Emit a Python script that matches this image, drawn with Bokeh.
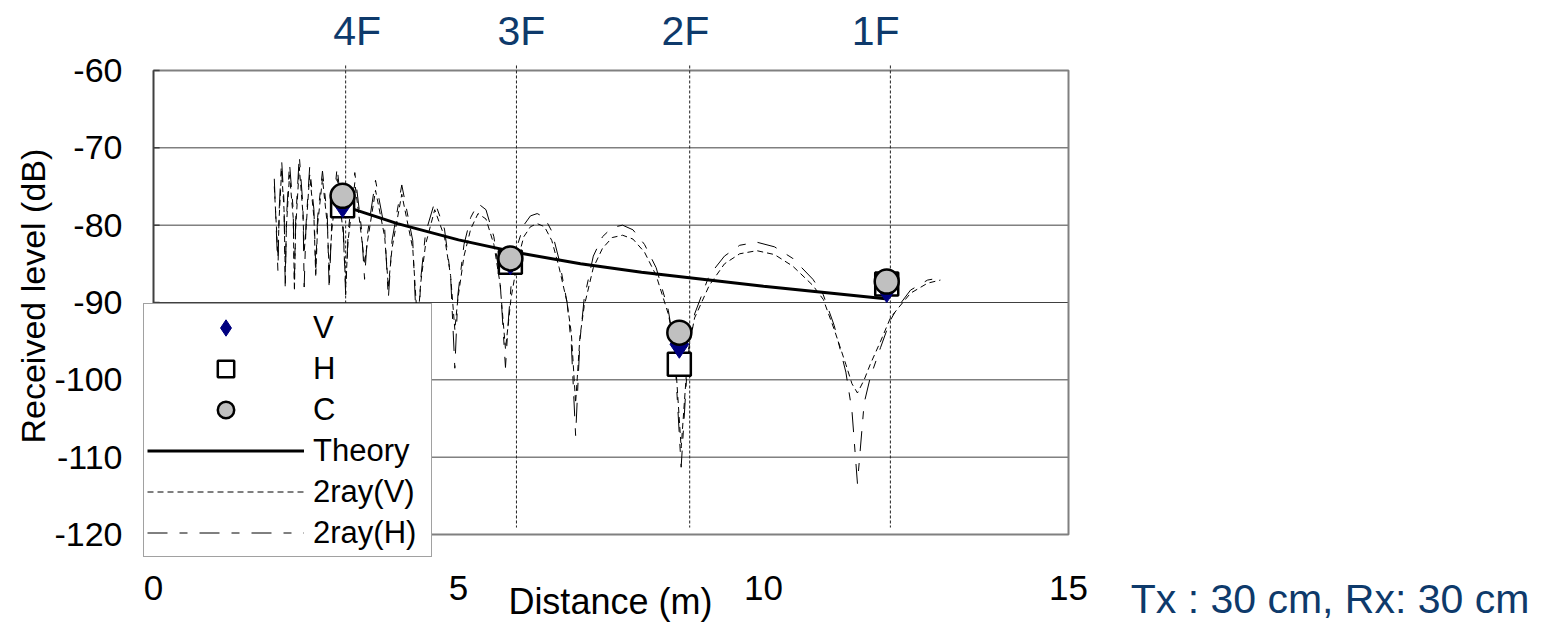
from bokeh.plotting import figure
from bokeh.models import Range1d, Legend, LegendItem, FixedTicker, Title
from bokeh.core.properties import value
from bokeh.embed import file_html
from bokeh.resources import INLINE

# ---------------- data ----------------
floor_x = [3.15, 5.95, 8.79, 12.08]
floor_labels = ["4F", "3F", "2F", "1F"]
floor_label_x = [3.34, 6.03, 8.72, 11.84]

meas_x = [3.10, 5.85, 8.62, 12.02]
meas_V = [-77.2, -84.6, -95.4, -88.2]
meas_H = [-77.5, -84.8, -98.0, -87.6]
meas_C = [-76.2, -84.3, -93.9, -87.3]

theory_x = [3.11, 4.0, 5.0, 6.0, 7.0, 8.0, 9.0, 10.0, 11.0, 12.0]
theory_y = [-77.5, -79.8, -81.9, -83.6, -85.0, -86.1, -87.0, -87.9, -88.7, -89.5]

ray_x = [1.98, 2.04, 2.06, 2.10, 2.14, 2.16, 2.18, 2.23, 2.29, 2.31, 2.33, 2.39,
         2.45, 2.47, 2.50, 2.56, 2.63, 2.66, 2.69, 2.77, 2.85, 2.88, 2.92, 3.01,
         3.11, 3.15, 3.19, 3.30, 3.41, 3.46, 3.51, 3.64, 3.79, 3.85, 3.91, 4.07,
         4.25, 4.33, 4.38, 4.46, 4.61, 4.77, 4.87, 4.94, 4.99, 5.09, 5.20, 5.32,
         5.45, 5.58, 5.68, 5.77, 5.82, 5.86, 5.97, 6.07, 6.18, 6.29, 6.41, 6.53,
         6.65, 6.78, 6.85, 6.92, 6.99, 7.06, 7.21, 7.36, 7.52, 7.69, 7.86, 8.05,
         8.24, 8.44, 8.54, 8.65, 8.76, 8.87, 9.11, 9.36, 9.61, 9.89, 10.18, 10.48,
         10.81, 10.98, 11.16, 11.35, 11.45, 11.54, 11.65, 11.75, 11.92, 12.08, 12.20,
         12.41, 12.69, 12.90]

ray_H = [-74.0, -86.0, -78.0, -71.5, -77.0, -88.5, -79.0, -72.0, -78.0, -87.0, -79.5, -71.0,
         -77.5, -88.0, -80.0, -72.5, -78.0, -85.5, -79.0, -73.0, -79.0, -88.4, -80.0, -72.5,
         -80.0, -89.0, -81.0, -73.2, -80.5, -87.0, -81.0, -74.2, -80.5, -89.5, -82.0, -74.8,
         -82.0, -97.0, -87.0, -81.0, -77.0, -80.5, -86.5, -98.5, -89.0, -82.5, -79.0, -77.2,
         -78.0, -81.5, -87.0, -98.4, -92.0, -88.0, -82.5, -80.0, -78.8, -78.5, -79.0, -80.8,
         -84.5, -90.0, -95.5, -107.2, -95.0, -89.5, -84.0, -81.5, -80.3, -80.0, -80.6, -82.5,
         -85.5, -91.0, -96.0, -111.3, -97.0, -91.5, -86.5, -84.0, -82.6, -82.2, -82.8, -84.3,
         -87.0, -89.0, -93.0, -99.0, -104.0, -113.4, -103.0, -99.7, -95.8, -92.3, -90.6,
         -88.4, -87.1, -86.8]

ray_V = [-75.0, -84.0, -79.0, -73.0, -78.0, -86.0, -80.0, -73.5, -79.0, -88.5, -80.5, -72.5,
         -78.5, -83.5, -80.5, -73.5, -79.0, -86.7, -80.0, -74.0, -80.0, -86.0, -81.0, -74.0,
         -81.0, -88.0, -82.0, -74.5, -81.5, -85.0, -82.0, -75.5, -81.5, -88.0, -83.0, -76.0,
         -83.0, -93.0, -87.5, -82.5, -78.0, -81.5, -86.5, -93.5, -89.5, -84.0, -80.5, -78.5,
         -79.2, -82.5, -87.5, -96.0, -92.5, -89.5, -84.5, -81.5, -80.2, -79.8, -80.2, -82.0,
         -85.5, -90.0, -94.0, -103.0, -94.5, -90.5, -85.5, -83.0, -81.6, -81.3, -81.8, -83.5,
         -86.5, -91.5, -95.5, -108.8, -96.5, -92.0, -87.8, -85.0, -83.7, -83.3, -83.8, -85.3,
         -87.8, -89.6, -93.5, -98.0, -100.5, -101.7, -100.0, -98.0, -95.0, -92.0, -90.8,
         -88.8, -87.5, -87.1]

x_ticks = [0, 5, 10, 15]
x_tick_labels = ["0", "5", "10", "15"]
y_ticks = [-120, -110, -100, -90, -80, -70, -60]
y_tick_labels = ["-120", "-110", "-100", "-90", "-80", "-70", "-60"]

FONT = "Liberation Sans"
BLUE = "#0E3A6B"

# ---------------- figure ----------------
# The frame spans the canvas right of the y-axis so that the legend and the
# outer texts are not clipped; the chart box itself is 0..15 x -120..-60.
p = figure(width=1551, height=624, output_backend="svg", toolbar_location=None,
           x_range=Range1d(-0.164, 22.918), y_range=Range1d(-131.638, -50.948),
           x_axis_location=None,
           min_border_left=143, min_border_right=0, min_border_top=0,
           min_border_bottom=0)
p.background_fill_color = "white"
p.border_fill_color = "white"
p.outline_line_color = None
p.xgrid.visible = False
p.ygrid.visible = False

yax = p.yaxis[0]
yax.ticker = FixedTicker(ticks=y_ticks)
yax.major_label_overrides = {t: s for t, s in zip(y_ticks, y_tick_labels)}
yax.major_label_text_font = FONT
yax.major_label_text_font_size = "34px"
yax.major_label_text_color = "black"
yax.major_label_standoff = 21
yax.major_tick_in = 0
yax.major_tick_out = 0
yax.minor_tick_line_color = None
yax.axis_line_color = None

p.add_layout(Title(text="Received level (dB)", align="left", offset=181,
                   text_font=FONT, text_font_size="34px", text_font_style="normal",
                   text_color="black", standoff=0), "left")

x0, x1 = x_ticks[0], x_ticks[-1]
y0, y1 = y_ticks[0], y_ticks[-1]

# horizontal grid lines of the chart box
p.segment(x0=[x0] * len(y_ticks), y0=y_ticks, x1=[x1] * len(y_ticks), y1=y_ticks,
          line_color="#404040", line_width=1)
# chart box
p.quad(left=[x0], right=[x1], bottom=[y0], top=[y1], fill_color=None,
       line_color="#808080", line_width=2)
p.segment(x0=[x0], y0=[y0], x1=[x0], y1=[y1], line_color="#404040", line_width=1.5)
# inward ticks on the left border
p.segment(x0=[x0] * len(y_ticks), y0=y_ticks, x1=[x0 + 0.1] * len(y_ticks), y1=y_ticks,
          line_color="#404040", line_width=1.5)

# floor marker lines
p.segment(x0=floor_x, y0=[-59.35] * 4, x1=floor_x, y1=[-119.1] * 4,
          line_color="#222222", line_width=1, line_dash="3 2")

# curves
r_v2 = p.line(ray_x, ray_V, line_color="black", line_width=1, line_dash="6 4")
r_h2 = p.line(ray_x, ray_H, line_color="black", line_width=1, line_dash="20 12 8 12")
r_th = p.line(theory_x, theory_y, line_color="black", line_width=3)

# measurements
r_H = p.scatter(meas_x, meas_H, marker="square", size=23, fill_color="white",
                line_color="black", line_width=2.5)
r_V = p.scatter(meas_x, meas_V, marker="diamond", size=28, fill_color="#000080",
                line_color="#000080")
r_C = p.scatter(meas_x, meas_C, marker="circle", size=24, fill_color="#C0C0C0",
                line_color="black", line_width=2.5)

legend = Legend(items=[
    LegendItem(label="V", renderers=[r_V]),
    LegendItem(label="H", renderers=[r_H]),
    LegendItem(label="C", renderers=[r_C]),
    LegendItem(label="Theory", renderers=[r_th]),
    LegendItem(label="2ray(V)", renderers=[r_v2]),
    LegendItem(label="2ray(H)", renderers=[r_h2]),
], location=(0, 67))
legend.label_text_font = FONT
legend.label_text_font_size = "31px"
legend.label_text_color = "black"
legend.glyph_width = 157
legend.glyph_height = 41
legend.label_height = 41
legend.label_width = 115
legend.spacing = 0
legend.padding = 3
legend.margin = 0
legend.label_standoff = 9
legend.border_line_color = "#444444"
legend.border_line_width = 1
legend.background_fill_color = "white"
legend.background_fill_alpha = 1.0
p.add_layout(legend)

# texts
p.text(x=floor_label_x, y=[-54.83] * 4, text=floor_labels, text_align="center",
       text_baseline="middle", text_font=value(FONT), text_font_size="41px",
       text_color=BLUE)
p.text(x=x_ticks, y=[-126.98] * 4, text=x_tick_labels, text_align="center",
       text_baseline="middle", text_font=value(FONT), text_font_size="35px",
       text_color="black")
p.text(x=[7.49], y=[-128.6], text=["Distance (m)"], text_align="center",
       text_baseline="middle", text_font=value(FONT), text_font_size="36px",
       text_color="black")
p.text(x=[16.02], y=[-128.28], text=["Tx : 30 cm, Rx: 30 cm"], text_align="left",
       text_baseline="middle", text_font=value(FONT), text_font_size="41px",
       text_color=BLUE)

open("out.html", "w").write(file_html(p, INLINE))
